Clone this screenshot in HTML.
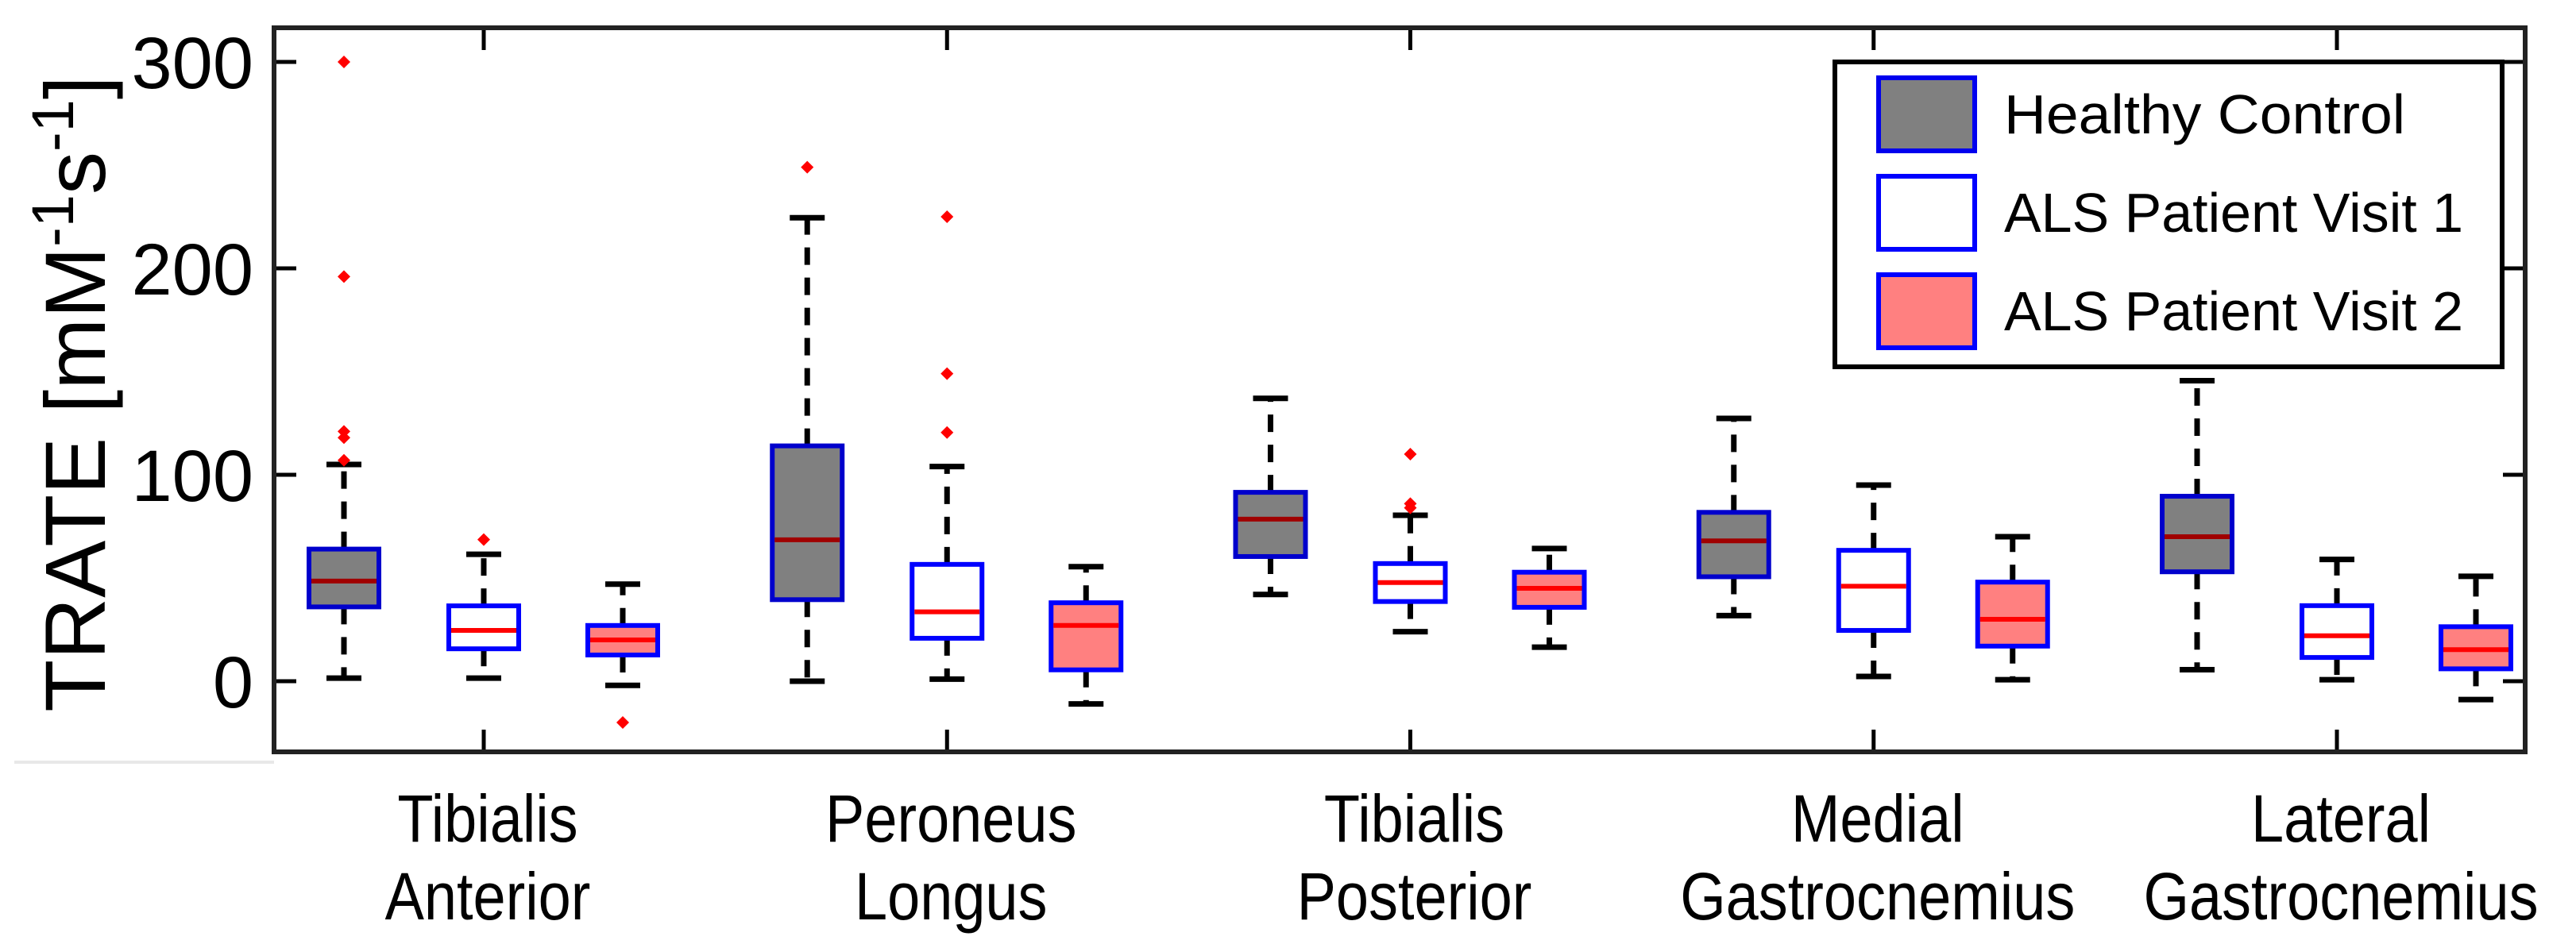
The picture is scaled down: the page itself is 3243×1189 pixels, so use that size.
<!DOCTYPE html>
<html><head><meta charset="utf-8"><style>
html,body{margin:0;padding:0;background:#fff;}
svg{display:block;}
text{font-family:"Liberation Sans",sans-serif;fill:#000;}
</style></head><body>
<svg id="chart" width="3243" height="1189" viewBox="0 0 3243 1189">
<line x1="18" y1="960" x2="345" y2="960" stroke="#e8e8e8" stroke-width="4"/>
<g id="plot"></g>
<text transform="translate(132,496) rotate(-90)" text-anchor="middle" font-size="108">TRATE [mM<tspan dy="-40" font-size="74">-1</tspan><tspan dy="40">s</tspan><tspan dy="-40" font-size="74">-1</tspan><tspan dy="40">]</tspan></text>
<g>
<rect x="2310" y="78" width="840" height="384" fill="#fff" stroke="#000" stroke-width="6"/>
<g>
<rect x="2365" y="98" width="121" height="92" fill="#808080" stroke="#0000ee" stroke-width="6"/>
<text x="2523" y="168" font-size="70" textLength="505" lengthAdjust="spacingAndGlyphs">Healthy Control</text></g>
<g>
<rect x="2365" y="222" width="121" height="92" fill="#fff" stroke="#0000ff" stroke-width="6"/>
<text x="2523" y="292" font-size="70" textLength="578" lengthAdjust="spacingAndGlyphs">ALS Patient Visit 1</text></g>
<g>
<rect x="2365" y="346" width="121" height="92" fill="#ff8080" stroke="#0000ff" stroke-width="6"/>
<text x="2523" y="416" font-size="70" textLength="578" lengthAdjust="spacingAndGlyphs">ALS Patient Visit 2</text></g>
</g>
</svg>
<script>
const categories1 = ["Tibialis","Peroneus","Tibialis","Medial","Lateral"];
const categories2 = ["Anterior","Longus","Posterior","Gastrocnemius","Gastrocnemius"];
const yTicks = [0,100,200,300];
// [lowerWhisker, q1, median, q3, upperWhisker]
const healthy = [[1.5,36,48.5,64,105],[0,39.5,68.5,114,224.5],[42,60.4,78.5,91.5,137],[31.8,50.6,68,81.8,127.3],[5.6,53,70,89.6,145.6]];
const visit1 = [[1.5,15.7,24.6,36.5,61.5],[1,20.8,33.6,56.6,104],[24,38.6,47.8,57,80.4],[2.3,24.6,46,63.4,95],[0.7,11.5,22,36.6,59]];
const visit2 = [[-2,12.7,20,27,47],[-11,5.5,27,38,55.5],[16.5,35.8,45,52.8,64.3],[0.7,17,30,48,70],[-8.9,6,15.3,26.4,50.8]];
const healthyOut = [[300,196,121,118,107],[249],[],[],[196]];
const visit1Out = [[68.6],[225,149,120.5],[110,86,84],[],[]];
const visit2Out = [[-20],[],[],[],[]];

const NS="http://www.w3.org/2000/svg";
const L=345,R=3179,T=35,B=947;
const y=v=>858-2.6*v;
const xc=i=>609+583.25*i;
const plot=document.getElementById('plot');
function mk(tag,attrs,parent){const e=document.createElementNS(NS,tag);for(const k in attrs)e.setAttribute(k,attrs[k]);(parent||plot).appendChild(e);return e;}

yTicks.forEach(t=>{
  const g=mk('g',{});
  
  
  mk('line',{x1:L,y1:y(t),x2:L+28,y2:y(t),stroke:'#000','stroke-width':5},g);
  mk('line',{x1:R,y1:y(t),x2:R-28,y2:y(t),stroke:'#000','stroke-width':5},g);
  const tx=mk('text',{x:319,y:y(t)+33,'text-anchor':'end','font-size':92},g);
  tx.textContent=t;
});
categories1.forEach((c,i)=>{
  const g=mk('g',{});
  
  
  mk('line',{x1:xc(i),y1:T,x2:xc(i),y2:T+28,stroke:'#000','stroke-width':5},g);
  mk('line',{x1:xc(i),y1:B,x2:xc(i),y2:B-28,stroke:'#000','stroke-width':5},g);
  const cx=xc(i)+5;
  [[c,1060],[categories2[i],1158]].forEach(([s,yy])=>{
    const t=mk('text',{x:cx,y:yy,'text-anchor':'middle','font-size':84},g);
    t.textContent=s;
    const w=t.getComputedTextLength();
    t.setAttribute('textLength', (w*0.88).toFixed(1));
    t.setAttribute('lengthAdjust','spacingAndGlyphs');
  });
});

const series=[
 {d:healthy,o:healthyOut,off:-176,fill:'#808080',stroke:'#0000cc',med:'#a00000',name:'healthy'},
 {d:visit1,o:visit1Out,off:0,fill:'#ffffff',stroke:'#0000ff',med:'#ff0000',name:'visit1'},
 {d:visit2,o:visit2Out,off:175,fill:'#ff8080',stroke:'#0000ff',med:'#ff0000',name:'visit2'}];
const BW=88,CW=44;
series.forEach(s=>{
  s.d.forEach((v,i)=>{
    const cx=xc(i)+s.off;
    const g=mk('g',{});
    
    
    mk('line',{x1:cx,y1:y(v[3]),x2:cx,y2:y(v[4]),stroke:'#000','stroke-width':7,'stroke-dasharray':'22 16'},g);
    mk('line',{x1:cx,y1:y(v[1]),x2:cx,y2:y(v[0]),stroke:'#000','stroke-width':7,'stroke-dasharray':'22 16'},g);
    mk('line',{x1:cx-CW/2,y1:y(v[4]),x2:cx+CW/2,y2:y(v[4]),stroke:'#000','stroke-width':7},g);
    mk('line',{x1:cx-CW/2,y1:y(v[0]),x2:cx+CW/2,y2:y(v[0]),stroke:'#000','stroke-width':7},g);
    mk('rect',{x:cx-BW/2,y:y(v[3]),width:BW,height:y(v[1])-y(v[3]),fill:s.fill,stroke:s.stroke,'stroke-width':6},g);
    mk('line',{x1:cx-BW/2+3,y1:y(v[2]),x2:cx+BW/2-3,y2:y(v[2]),stroke:s.med,'stroke-width':6},g);
    s.o[i].forEach((ov,j)=>{
      const m=mk('path',{d:`M${cx-8},${y(ov)} L${cx},${y(ov)-8} L${cx+8},${y(ov)} L${cx},${y(ov)+8}Z`,fill:'#ff0000'},g);
      
      
    });
  });
});
const frame=mk('rect',{x:L,y:T,width:R-L,height:B-T,fill:'none',stroke:'#222','stroke-width':6});


</script>
</body></html>
